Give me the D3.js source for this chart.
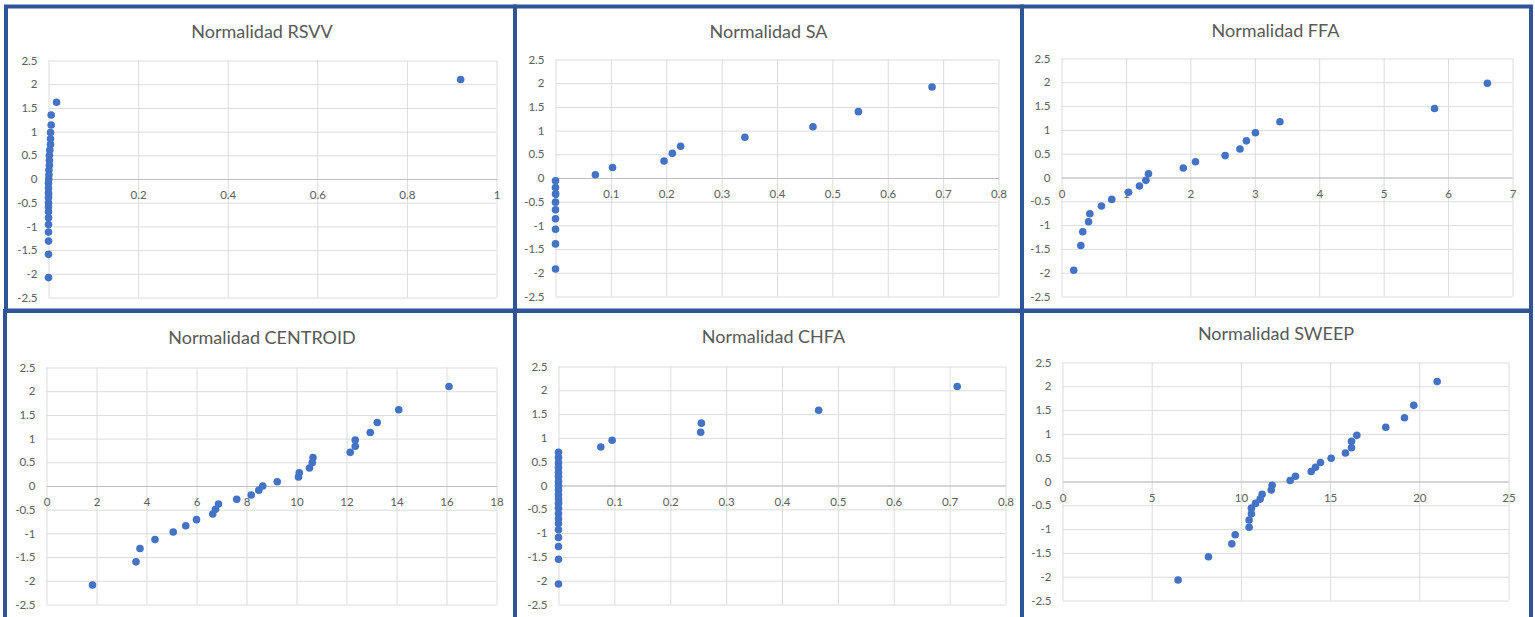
<!DOCTYPE html>
<html>
<head>
<meta charset="utf-8">
<script src="https://cdn.jsdelivr.net/npm/d3@7"></script>
<style>
  body { margin: 0; background: #fff; }
  svg { display: block; font-family: Lato, "Noto Sans", sans-serif; }
</style>
</head>
<body>
<svg id="chart" width="1535" height="617"></svg>
<script>
// valores (x = dato, y = puntaje normal)
var yTicks = [-2.5, -2, -1.5, -1, -0.5, 0, 0.5, 1, 1.5, 2, 2.5];

var rsvvX = [0.92, 0.018, 0.006, 0.006, 0.0045, 0.0045, 0.0045, 0.003, 0.002, 0.002, 0.002, 0.001, 0.001, 0.0005,
  0, 0, 0, 0, 0, 0, 0, 0, 0, 0, 0, 0, 0];
var rsvvY = [2.1, 1.62, 1.35, 1.14, 0.98, 0.85, 0.73, 0.61, 0.5, 0.39, 0.29, 0.19, 0.09, 0,
  -0.09, -0.19, -0.29, -0.39, -0.5, -0.59, -0.69, -0.82, -0.96, -1.12, -1.31, -1.59, -2.08];
var rsvvTicks = [0, 0.2, 0.4, 0.6, 0.8, 1];

var saX = [0.68, 0.547, 0.465, 0.342, 0.226, 0.211, 0.196, 0.103, 0.072, 0, 0, 0, 0, 0, 0, 0, 0, 0];
var saY = [1.92, 1.4, 1.08, 0.86, 0.67, 0.52, 0.36, 0.22, 0.07, -0.06, -0.2, -0.34, -0.51, -0.67, -0.86, -1.08, -1.39, -1.92];
var saTicks = [0, 0.1, 0.2, 0.3, 0.4, 0.5, 0.6, 0.7, 0.8];

var ffaX = [6.61, 5.79, 3.39, 3.01, 2.87, 2.77, 2.54, 2.08, 1.89, 1.35, 1.31, 1.21, 1.04, 0.78, 0.62, 0.44, 0.42, 0.33, 0.3, 0.19];
var ffaY = [1.98, 1.45, 1.17, 0.94, 0.77, 0.6, 0.46, 0.33, 0.2, 0.08, -0.06, -0.18, -0.31, -0.46, -0.6, -0.76, -0.93, -1.14, -1.43, -1.95];
var ffaTicks = [0, 1, 2, 3, 4, 5, 6, 7];

var centroidX = [16.1, 14.09, 13.23, 12.95, 12.35, 12.35, 12.15, 10.66, 10.63, 10.52, 10.11, 10.08, 9.23, 8.65,
  8.49, 8.19, 7.61, 6.88, 6.76, 6.65, 6.0, 5.57, 5.07, 4.34, 3.74, 3.58, 1.84];
var centroidY = [2.1, 1.61, 1.34, 1.13, 0.97, 0.84, 0.71, 0.6, 0.49, 0.38, 0.28, 0.19, 0.09, 0,
  -0.09, -0.19, -0.28, -0.38, -0.49, -0.59, -0.71, -0.84, -0.97, -1.13, -1.32, -1.6, -2.09];
var centroidTicks = [0, 2, 4, 6, 8, 10, 12, 14, 16, 18];

var chfaX = [0.7136, 0.4656, 0.2557, 0.2545, 0.096, 0.0757,
  0, 0, 0, 0, 0, 0, 0, 0, 0, 0, 0, 0, 0, 0, 0, 0, 0, 0, 0, 0, 0];
var chfaY = [2.08, 1.58, 1.31, 1.12, 0.95, 0.81, 0.7, 0.59, 0.48, 0.38, 0.28, 0.19, 0.09, 0,
  -0.09, -0.19, -0.28, -0.38, -0.48, -0.59, -0.7, -0.8, -0.93, -1.09, -1.28, -1.55, -2.07];
var chfaTicks = [0, 0.1, 0.2, 0.3, 0.4, 0.5, 0.6, 0.7, 0.8];

var sweepX = [21.0, 19.69, 19.17, 18.12, 16.5, 16.2, 16.2, 15.86, 15.06, 14.46, 14.18, 13.94, 13.06, 12.76,
  11.75, 11.7, 11.19, 11.08, 10.82, 10.59, 10.59, 10.46, 10.46, 9.68, 9.49, 8.18, 6.48];
var sweepY = [2.1, 1.6, 1.34, 1.14, 0.97, 0.845, 0.71, 0.6, 0.49, 0.4, 0.3, 0.21, 0.11, 0.02,
  -0.08, -0.18, -0.27, -0.37, -0.46, -0.56, -0.68, -0.81, -0.96, -1.12, -1.31, -1.58, -2.07];
var sweepTicks = [0, 5, 10, 15, 20, 25];

var titles = ["Normalidad RSVV", "Normalidad SA", "Normalidad FFA",
  "Normalidad CENTROID", "Normalidad CHFA", "Normalidad SWEEP"];

// caja del panel [x, y, w, h] y area de trazado [izq, arriba, der, abajo]
var panels = [
  {xs: rsvvX, ys: rsvvY, ticks: rsvvTicks, box: [6, 6.5, 509, 304], plot: [48.5, 60.5, 496.5, 297.5], cx: 262, ty: 32},
  {xs: saX, ys: saY, ticks: saTicks, box: [515, 6.5, 507, 304], plot: [555.5, 59.5, 998.5, 296.5], cx: 768.5, ty: 32},
  {xs: ffaX, ys: ffaY, ticks: ffaTicks, box: [1022, 6.5, 509, 304], plot: [1061.5, 58.5, 1512.5, 296.5], cx: 1275.5, ty: 31},
  {xs: centroidX, ys: centroidY, ticks: centroidTicks, box: [5, 311, 510, 320], plot: [46.5, 367.5, 496.5, 604.5], cx: 262, ty: 338},
  {xs: chfaX, ys: chfaY, ticks: chfaTicks, box: [515, 311, 507, 320], plot: [558.5, 366.5, 1005.5, 604.5], cx: 773.5, ty: 337},
  {xs: sweepX, ys: sweepY, ticks: sweepTicks, box: [1022, 311, 509, 320], plot: [1062.5, 362.5, 1508.5, 600.5], cx: 1276, ty: 334}
];

var svg = d3.select("#chart");

svg.append("rect").attr("width", 1535).attr("height", 617).attr("fill", "#fff");

panels.forEach(function(p, i) {
  var g = svg.append("g");
  var L = p.plot[0], T = p.plot[1], R = p.plot[2], B = p.plot[3];

  var x = d3.scaleLinear()
    .domain([p.ticks[0], p.ticks[p.ticks.length - 1]])
    .range([L, R]);
  var y = d3.scaleLinear().domain([-2.5, 2.5]).range([B, T]);

  // lineas verticales
  var gx = g.append("g")
    .attr("transform", "translate(0," + B + ")")
    .call(d3.axisBottom(x).tickValues(p.ticks).tickSize(-(B - T)).tickFormat(""));
  gx.select(".domain").remove();
  gx.selectAll("line").attr("stroke", "#dcdcdc");

  // lineas horizontales + etiquetas eje y
  var gy = g.append("g")
    .attr("transform", "translate(" + L + ",0)")
    .call(d3.axisLeft(y).tickValues(yTicks).tickSize(-(R - L)).tickPadding(11).tickFormat(String));
  gy.select(".domain").remove();
  gy.selectAll("line").attr("stroke", "#dcdcdc");
  gy.selectAll("text")
    .attr("fill", "#606060")
    .style("font-family", "Lato, 'Noto Sans', sans-serif")
    .style("font-size", "11.5px");

  // eje x cruzando en y = 0
  var g0 = g.append("g")
    .attr("transform", "translate(0," + y(0) + ")")
    .call(d3.axisBottom(x).tickValues(p.ticks).tickSize(0).tickPadding(12).tickFormat(String));
  g0.select(".domain").attr("stroke", "#bfbfbf");
  g0.selectAll("text")
    .attr("fill", "#606060")
    .style("font-family", "Lato, 'Noto Sans', sans-serif")
    .style("font-size", "11.5px");

  // puntos
  g.selectAll("circle")
    .data(d3.range(p.xs.length))
    .enter().append("circle")
    .attr("cx", function(d) { return x(p.xs[d]); })
    .attr("cy", function(d) { return y(p.ys[d]); })
    .attr("r", 3.8)
    .attr("fill", "#4472c4");

  // titulo
  g.append("text")
    .attr("x", p.cx)
    .attr("y", p.ty)
    .attr("dy", "0.35em")
    .attr("text-anchor", "middle")
    .attr("fill", "#595959")
    .style("font-size", "18px")
    .text(titles[i]);

  // borde del panel
  svg.append("rect")
    .attr("x", p.box[0])
    .attr("y", p.box[1])
    .attr("width", p.box[2])
    .attr("height", p.box[3])
    .attr("fill", "none")
    .attr("stroke", "#2f5597")
    .attr("stroke-width", 4);
});
</script>
</body>
</html>
